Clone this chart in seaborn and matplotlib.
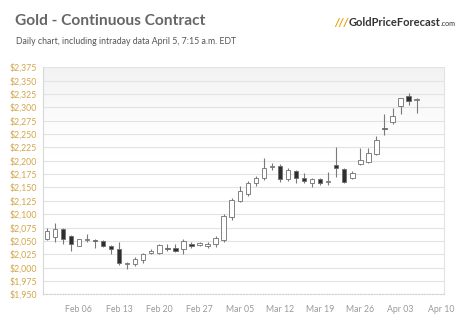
import numpy as np
import pandas as pd
import matplotlib
matplotlib.use("Agg")
import matplotlib.pyplot as plt
import seaborn as sns

# ---- data ----
dates = ["Jan 31", "Feb 01", "Feb 02", "Feb 05", "Feb 06", "Feb 07", "Feb 08", "Feb 09",
         "Feb 12", "Feb 13", "Feb 14", "Feb 15", "Feb 16", "Feb 19", "Feb 20", "Feb 21",
         "Feb 22", "Feb 23", "Feb 26", "Feb 27", "Feb 28", "Feb 29", "Mar 01", "Mar 04",
         "Mar 05", "Mar 06", "Mar 07", "Mar 08", "Mar 11", "Mar 12", "Mar 13", "Mar 14",
         "Mar 15", "Mar 18", "Mar 19", "Mar 20", "Mar 21", "Mar 22", "Mar 25", "Mar 26",
         "Mar 27", "Mar 28", "Apr 01", "Apr 02", "Apr 03", "Apr 04", "Apr 05"]
open_ = [2054, 2057, 2073, 2059, 2041, 2051, 2052, 2050, 2040, 2034, 2006, 2006, 2015, 2027,
         2028, 2036, 2036, 2034, 2045, 2043, 2041, 2044, 2052, 2094, 2125, 2137, 2158, 2167,
         2188, 2191, 2165, 2181, 2167, 2159, 2165, 2161, 2192, 2184, 2167, 2194, 2198, 2213,
         2262, 2273, 2303, 2322, 2313]
close = [2069, 2072, 2054, 2044, 2053, 2053, 2049, 2040, 2034, 2008, 2008, 2016, 2025, 2031,
         2042, 2035, 2031, 2050, 2041, 2046, 2045, 2056, 2097, 2126, 2143, 2159, 2167, 2187,
         2190, 2166, 2183, 2167, 2162, 2165, 2159, 2163, 2186, 2161, 2178, 2201, 2215, 2239,
         2260, 2283, 2317, 2311, 2315]
high = [2075, 2083, 2075, 2061, 2054, 2062, 2053, 2051, 2043, 2047, 2010, 2020, 2028, 2034,
        2045, 2045, 2045, 2053, 2047, 2048, 2048, 2060, 2100, 2130, 2152, 2162, 2172, 2205,
        2195, 2194, 2186, 2183, 2177, 2167, 2167, 2179, 2226, 2186, 2181, 2223, 2223, 2247,
        2287, 2298, 2318, 2326, 2317]
low = [2051, 2047, 2045, 2031, 2040, 2047, 2036, 2038, 2026, 2005, 1998, 2003, 2008, 2025,
       2025, 2031, 2030, 2025, 2036, 2041, 2036, 2038, 2048, 2090, 2122, 2134, 2153, 2164,
       2183, 2160, 2162, 2158, 2158, 2151, 2154, 2154, 2170, 2159, 2165, 2192, 2195, 2210,
       2249, 2268, 2287, 2304, 2289]
tick_labels = ["Feb 06", "Feb 13", "Feb 20", "Feb 27", "Mar 05", "Mar 12", "Mar 19",
               "Mar 26", "Apr 03", "Apr 10"]
tick_every = 5
first_tick = 4
y_ticks = list(range(1950, 2376, 25))

df = pd.DataFrame({"date": dates, "open": open_, "close": close, "high": high, "low": low})
df["idx"] = np.arange(len(df))
df["up"] = df["close"] >= df["open"]

# ---- style ----
sns.set_theme(style="white")
plt.rcParams["font.family"] = ["Lato", "DejaVu Sans"]

W, H = 474, 326
fig = plt.figure(figsize=(W / 100, H / 100), dpi=100)
fig.patch.set_facecolor("white")
ax = fig.add_axes([42.7 / W, 1 - 294.3 / H, (444 - 42.7) / W, (294.3 - 67.3) / H])

# subtle gradient at top of plot area
g = np.linspace(0, 1, 256)
grad_rgba = np.zeros((256, 1, 4))
grad_rgba[:, 0, :3] = 0.90
grad_rgba[:, 0, 3] = np.clip((g - 0.6) / 0.4, 0, 1) ** 1.5 * 0.5
ax.imshow(grad_rgba, extent=(0, 1, 0, 1), transform=ax.transAxes, aspect="auto",
          origin="lower", zorder=0)

n_ticks = len(tick_labels)
ax.set_xlim(-0.5, 49.4)
ax.set_ylim(y_ticks[0], y_ticks[-1])

for y in y_ticks:
    ax.axhline(y, color="#e3e3e3", lw=0.8, zorder=1)

# wicks
ax.vlines(df["idx"], df["low"], df["high"], color="#7a7a7a", lw=0.8, zorder=2)
# bodies
bw = 0.55
body_bottom = np.minimum(df["open"], df["close"])
body_h = np.maximum(np.abs(df["close"] - df["open"]), 0.6)
colors = np.where(df["up"], "white", "#2e2e2e")
ax.bar(df["idx"], body_h, bottom=body_bottom, width=bw, color=colors,
       edgecolor="#6f6f6f", linewidth=0.6, zorder=3)

# ticks
xt = [first_tick + tick_every * k for k in range(n_ticks)]
ax.set_xticks(xt)
ax.set_xticklabels(tick_labels, color="#9a9a9a", fontsize=6.3)
ax.set_xticks(np.arange(0, 50), minor=True)
ax.set_yticks(y_ticks)
ax.set_yticklabels([f"${v:,}" for v in y_ticks], color="#d2a64a", fontsize=6.3)
ax.tick_params(axis="x", which="both", length=2, color="#dddddd", pad=6)
ax.tick_params(axis="y", length=0, pad=4)

ax.spines["top"].set_visible(False)
ax.spines["left"].set_color("#d8d8d8")
ax.spines["right"].set_color("#e2e2e2")
ax.spines["bottom"].set_color("#d0d0d0")
ax.spines["bottom"].set_linestyle((0, (1, 1.5)))
for s in ax.spines.values():
    s.set_linewidth(0.8)

# titles
fig.text(15 / W, 1 - 21 / H, "Gold - Continuous Contract", fontsize=11.2,
         fontweight="bold", color="#666666", va="center", ha="left")
fig.text(16 / W, 1 - 41 / H, "Daily chart, including intraday data April 5, 7:15 a.m. EDT",
         fontsize=6.3, color="#555555", va="center", ha="left")
# logo
fig.text(334 / W, 1 - 22.5 / H, "///", fontsize=8.0, fontweight="bold", style="italic",
         color="#e2a000", va="center", ha="left")
logo = fig.text(348.5 / W, 1 - 22.5 / H, "GoldPriceForecast", fontsize=8.0, fontweight="bold",
                color="#333333", va="center", ha="left")
fig.canvas.draw()
bb = logo.get_window_extent(renderer=fig.canvas.get_renderer())
fig.text((bb.x1 + 0.5) / W, 1 - 24 / H, ".com", fontsize=5.2, color="#333333",
         va="center", ha="left")

fig.savefig("out.png", dpi=100, facecolor="white")
